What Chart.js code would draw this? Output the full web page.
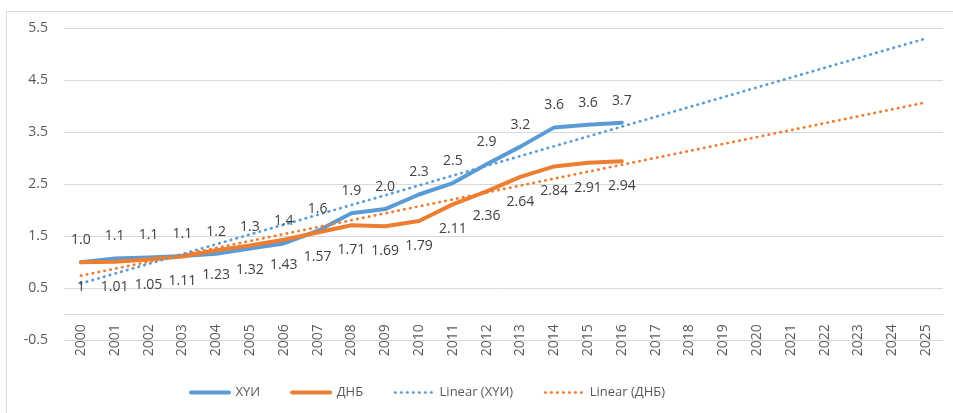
<!DOCTYPE html>
<html>
<head>
<meta charset="utf-8">
<script src="https://cdn.jsdelivr.net/npm/chart.js@4.4.0/dist/chart.umd.min.js"></script>
<style>
  html, body { margin: 0; padding: 0; background: #fff; }
  #wrap { position: relative; width: 953px; height: 413px; overflow: hidden; }
  #frame { position: absolute; left: 6px; top: 11px; width: 1000px; height: 500px;
           border-left: 1px solid #d9d9d9; border-top: 1px solid #d9d9d9; pointer-events: none; }
</style>
</head>
<body>
<div id="wrap">
  <canvas id="chart" width="953" height="413"></canvas>
  <div id="frame"></div>
</div>
<script>
// categories
var years = ['2000','2001','2002','2003','2004','2005','2006','2007','2008','2009','2010','2011','2012',
             '2013','2014','2015','2016','2017','2018','2019','2020','2021','2022','2023','2024','2025'];

// series (2000-2016)
var khuiValues = [1.00, 1.07, 1.09, 1.12, 1.16, 1.26, 1.36, 1.60, 1.94, 2.02, 2.30, 2.52, 2.88, 3.22, 3.59, 3.64, 3.68];
var dnbValues  = [1, 1.01, 1.05, 1.11, 1.23, 1.32, 1.43, 1.57, 1.71, 1.69, 1.79, 2.11, 2.36, 2.64, 2.84, 2.91, 2.94];

// trend lines: value at 2000 and at 2025
var khuiTrend = [0.59, 5.30];
var dnbTrend  = [0.74, 4.07];

// y tick range
var yMin = -0.5, yMax = 5.5, yStep = 1;

var blue = '#5B9BD5';
var orange = '#ED7D31';
var textColor = '#595959';

var dataLabels = {
    id: 'dataLabels',
    afterDatasetsDraw: function(chart) {
        var ctx = chart.ctx;
        ctx.save();
        ctx.font = '14px "Open Sans"';
        ctx.fillStyle = '#404040';
        ctx.textAlign = 'center';
        ctx.textBaseline = 'middle';
        [0, 1].forEach(function(di) {
            var meta = chart.getDatasetMeta(di);
            var ds = chart.data.datasets[di];
            meta.data.forEach(function(pt, i) {
                var v = ds.data[i];
                var txt = di === 0 ? v.toFixed(1) : String(v);
                var y = di === 0 ? pt.y - 22 : pt.y + 25;
                ctx.fillText(txt, pt.x, y);
            });
        });
        ctx.restore();
    }
};

// the legend in the original sits a bit left of centre
var shiftLegend = {
    id: 'shiftLegend',
    afterLayout: function(chart) {
        chart.legend.left -= 46;
        chart.legend.right -= 46;
    }
};

function legendLabels(chart) {
    var items = Chart.defaults.plugins.legend.labels.generateLabels(chart);
    items.forEach(function(item) {
        var ds = chart.data.datasets[item.datasetIndex];
        item.lineDash = ds.borderDash || [];
        item.lineWidth = ds.borderWidth;
        item.lineCap = ds.borderCapStyle;
    });
    return items;
}

var ctx = document.getElementById('chart');
var lineChart = new Chart(ctx, {
    type: 'line',
    data: {
        labels: years,
        datasets: [
            {
                label: 'ХҮИ',
                data: khuiValues,
                borderColor: blue,
                backgroundColor: blue,
                borderWidth: 4,
                borderJoinStyle: 'round',
                borderCapStyle: 'round',
                pointRadius: 0,
                tension: 0,
                order: 4
            },
            {
                label: 'ДНБ',
                data: dnbValues,
                borderColor: orange,
                backgroundColor: orange,
                borderWidth: 4,
                borderJoinStyle: 'round',
                borderCapStyle: 'round',
                pointRadius: 0,
                tension: 0,
                order: 3
            },
            {
                label: 'Linear (ХҮИ)',
                data: [{x: years[0], y: khuiTrend[0]}, {x: years[years.length - 1], y: khuiTrend[1]}],
                borderColor: blue,
                backgroundColor: blue,
                borderWidth: 2.7,
                borderDash: [0.5, 5.5],
                borderCapStyle: 'round',
                pointRadius: 0,
                order: 2
            },
            {
                label: 'Linear (ДНБ)',
                data: [{x: years[0], y: dnbTrend[0]}, {x: years[years.length - 1], y: dnbTrend[1]}],
                borderColor: orange,
                backgroundColor: orange,
                borderWidth: 2.7,
                borderDash: [0.5, 5.5],
                borderCapStyle: 'round',
                pointRadius: 0,
                order: 1
            }
        ]
    },
    options: {
        responsive: false,
        animation: false,
        events: [],
        layout: {
            padding: {left: 0, right: 5, top: 28, bottom: 4}
        },
        scales: {
            x: {
                position: {y: 0},
                offset: true,
                grid: {display: false, drawTicks: false},
                border: {display: true, color: '#d9d9d9', width: 1},
                ticks: {
                    color: textColor,
                    font: {family: 'Open Sans', size: 14},
                    minRotation: 90,
                    maxRotation: 90,
                    autoSkip: false,
                    padding: 10
                }
            },
            y: {
                min: yMin,
                max: yMax,
                afterFit: function(scale) { scale.width = 64; },
                grid: {color: '#d9d9d9', lineWidth: 1, drawTicks: false},
                border: {display: false},
                ticks: {
                    stepSize: yStep,
                    color: textColor,
                    font: {family: 'Open Sans', size: 14},
                    padding: 16,
                    callback: function(v) { return Number(v).toFixed(1); }
                }
            }
        },
        plugins: {
            tooltip: {enabled: false},
            legend: {
                position: 'bottom',
                title: {display: true, text: '', font: {size: 1.5}, padding: {top: 12, bottom: 0}},
                labels: {
                    color: textColor,
                    font: {family: 'Open Sans', size: 13},
                    usePointStyle: true,
                    pointStyle: 'line',
                    pointStyleWidth: 38,
                    padding: 32,
                    generateLabels: legendLabels,
                    sort: function(a, b) { return a.datasetIndex - b.datasetIndex; }
                }
            }
        }
    },
    plugins: [dataLabels, shiftLegend]
});
</script>
</body>
</html>
